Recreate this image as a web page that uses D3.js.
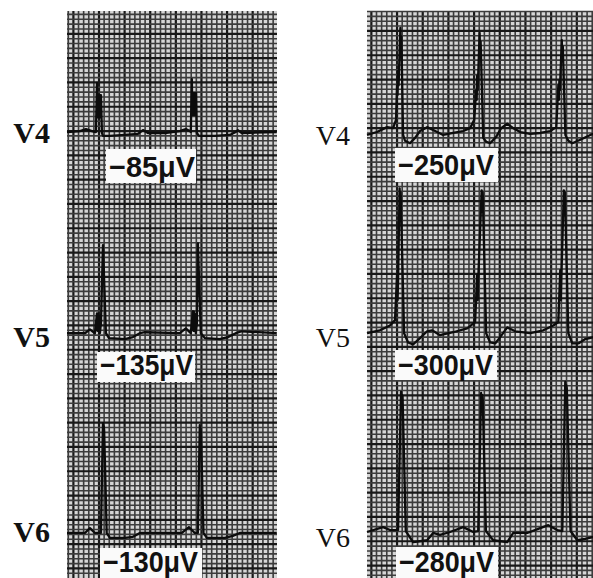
<!DOCTYPE html>
<html>
<head>
<meta charset="utf-8">
<script src="https://cdn.jsdelivr.net/npm/d3@7"></script>
<style>
body { margin: 0; background: #fff; }
</style>
</head>
<body>
<script>
var width = 593;
var height = 578;

// lead names and the amplitude printed under each strip (microvolts)
var leads = ["V4", "V5", "V6"];
var leftAmps = [-85, -135, -130];
var rightAmps = [-250, -300, -280];

// traces: [time in ms, amplitude in mV]
var leftV4 = [[0,0],[101,0.02],[148,0.06],[195,0.02],[218,0],[226,0],[234,1.01],[238,0.3],[242,0.76],
  [246,0.3],[250,0.76],[254,0.3],[258,0.76],[262,0.3],[265,0.76],[273,-0.02],[281,-0.08],[335,-0.08],
  [452,-0.06],[554,-0.04],[593,0.04],[632,-0.02],[764,-0.02],[881,0.02],[928,0.06],[959,0.02],
  [967,0],[975,1.09],[979,0.35],[983,0.80],[987,0.35],[991,0.80],[995,0.35],[999,0.80],[1003,0.35],
  [1008,0.80],[1014,-0.02],[1030,-0.08],[1154,-0.08],[1271,-0.06],[1318,0],[1334,0.04],
  [1365,-0.02],[1638,0]];
var leftV5 = [[0,0],[140,0],[179,0.08],[218,0],[234,0.41],[238,0.05],[242,0.40],[246,0.05],[250,0.36],
  [257,0],[265,0.2],[281,1.81],[304,0],[328,-0.10],[452,-0.12],[515,-0.08],[569,0],[608,0.02],
  [881,0],[928,0.10],[967,0],[983,0.45],[987,0.05],[991,0.44],[995,0.05],[998,0.4],[1006,0],
  [1014,0.2],[1022,1.85],[1045,0],[1076,-0.10],[1193,-0.12],[1256,-0.08],[1318,0],[1365,0.04],
  [1638,0]];
var leftV6 = [[0,0],[140,0],[179,0.10],[218,0],[265,0],[281,2.26],[284,1.9],[287,2.2],[290,2.12],
  [310,0],[335,-0.10],[452,-0.10],[515,-0.08],[569,0],[897,0],[952,0.12],[998,0],[1022,0],
  [1037,2.22],[1040,1.9],[1043,2.15],[1046,2.08],[1066,0],[1092,-0.10],[1232,-0.10],[1295,-0.06],
  [1349,0],[1638,0]];

var rightV4 = [[0,-0.02],[78,0.04],[156,0.14],[203,0.12],[226,0.29],[234,1.0],[238,0.80],[242,1.3],
  [246,1.0],[260,2.18],[264,1.6],[268,2.0],[281,-0.02],[296,-0.14],[335,-0.19],[374,-0.08],
  [413,0.06],[468,0.14],[515,0.08],[593,-0.02],[671,0.02],[749,0.06],[803,0.12],[835,0.29],
  [850,0.9],[854,0.70],[858,1.2],[862,0.9],[877,2.08],[881,1.6],[885,1.9],[905,-0.08],[928,-0.16],
  [959,-0.19],[1006,-0.06],[1045,0.12],[1092,0.21],[1139,0.12],[1193,0.04],[1271,0],[1349,0.02],
  [1427,0.06],[1474,0.14],[1490,1.0],[1494,0.70],[1498,1.1],[1502,0.9],[1517,1.93],[1521,1.5],
  [1525,1.8],[1545,-0.02],[1568,-0.14],[1599,-0.19],[1661,-0.12],[1739,-0.02],[1763,0]];
var rightV5 = [[0,0],[101,0.06],[179,0.16],[218,0.27],[234,1.2],[238,0.68],[242,1.1],[254,2.98],
  [258,2.5],[262,2.9],[289,0],[320,-0.19],[359,-0.23],[413,-0.10],[468,0.04],[507,0.06],
  [569,-0.04],[671,0.02],[780,0.10],[842,0.23],[858,1.2],[862,0.68],[866,1.1],[893,2.94],
  [897,2.5],[901,2.9],[928,0],[959,-0.19],[998,-0.21],[1037,-0.08],[1092,0.12],[1154,0.04],
  [1271,0],[1373,0.06],[1451,0.16],[1490,0.23],[1505,1.3],[1509,0.68],[1513,1.1],[1533,2.94],
  [1537,2.5],[1541,2.9],[1568,0],[1599,-0.21],[1646,-0.21],[1700,-0.12],[1763,-0.08]];
var rightV6 = [[0,-0.02],[125,0.08],[179,0.02],[242,0.02],[265,2.86],[269,2.5],[273,2.8],[277,2.78],
  [302,0],[359,-0.23],[468,-0.19],[515,-0.04],[569,-0.08],[647,-0.02],[749,0.08],[827,-0.02],
  [866,0],[889,2.84],[893,2.5],[897,2.8],[901,2.74],[926,0],[983,-0.19],[1092,-0.23],[1139,-0.04],
  [1248,-0.04],[1349,0.06],[1412,0.12],[1482,0.02],[1521,0],[1544,3.07],[1548,2.7],[1552,3.0],
  [1556,2.94],[1585,0],[1638,-0.19],[1700,-0.16],[1763,-0.12]];

// page layout of the two paper strips
var panels = [
  { x0: 67, x1: 277, tMax: 1640, majT: 50, majMm: 4.7, bases: [24.9, 66.3, 107.4],
    traces: [leftV4, leftV5, leftV6], amps: leftAmps, bold: true,
    labelX: 50, labelY: [143, 347, 542], fontSize: 30,
    boxes: [[106, 149, 90, 34, 177, 86], [97, 352, 98, 30, 375, 93], [100, 548, 102, 32, 572, 95]] },
  { x0: 367, x1: 593, tMax: 1760, majT: 34, majMm: 4.1, bases: [25.3, 66.3, 107.0],
    traces: [rightV4, rightV5, rightV6], amps: rightAmps, bold: false,
    labelX: 350, labelY: [145, 347, 547], fontSize: 28,
    boxes: [[395, 148, 103, 34, 175, 96], [395, 350, 102, 30, 375, 95], [396, 547, 102, 32, 572, 95]] }
];

var svg = d3.select("body").append("svg")
  .attr("width", width)
  .attr("height", height)
  .style("display", "block");

var paperTop = 11;
var mmMax = (height - paperTop) / 4.86;

panels.forEach(function(p) {
  var x = d3.scaleLinear().domain([0, p.tMax]).range([p.x0, p.x1]);
  var y = d3.scaleLinear().domain([0, mmMax]).range([paperTop, height]);
  var g = svg.append("g");

  // paper
  g.append("rect")
    .attr("x", p.x0).attr("y", paperTop)
    .attr("width", p.x1 - p.x0).attr("height", height - paperTop)
    .attr("fill", "#d6d6d6");

  // small squares every 40 ms / 1 mm, big squares every 200 ms / 5 mm
  var isMajT = d => Math.abs(Math.round(d - p.majT)) % 200 === 0;
  var isMajMm = d => Math.abs(Math.round(d - p.majMm)) % 5 === 0;
  var vMinor = d3.range(p.majT % 40, p.tMax, 40);
  var hMinor = d3.range(p.majMm % 1, mmMax, 1);
  g.selectAll(".vmin").data(vMinor).enter().append("line")
    .attr("x1", d => x(d)).attr("x2", d => x(d))
    .attr("y1", paperTop).attr("y2", height)
    .attr("stroke", d => isMajT(d) ? "#181818" : "#3c3c3c")
    .attr("stroke-width", d => isMajT(d) ? 2.2 : 1.6);
  g.selectAll(".hmin").data(hMinor).enter().append("line")
    .attr("x1", p.x0).attr("x2", p.x1)
    .attr("y1", d => y(d)).attr("y2", d => y(d))
    .attr("stroke", d => isMajMm(d) ? "#181818" : "#3c3c3c")
    .attr("stroke-width", d => isMajMm(d) ? 2.2 : 1.6);

  // traces, 10 mm per mV
  p.traces.forEach(function(tr, i) {
    var line = d3.line()
      .x(d => x(d[0]))
      .y(d => y(p.bases[i] - d[1] * 10));
    g.append("path")
      .datum(tr)
      .attr("d", line)
      .attr("fill", "none")
      .attr("stroke", "#0c0c0c")
      .attr("stroke-width", 2.3)
      .attr("stroke-linejoin", "round");
  });

  // lead names
  g.selectAll(".lead").data(leads).enter().append("text")
    .attr("x", p.labelX)
    .attr("y", (d, i) => p.labelY[i])
    .attr("text-anchor", "end")
    .attr("font-family", "'Liberation Serif', 'DejaVu Serif', serif")
    .attr("font-weight", p.bold ? "bold" : "normal")
    .attr("font-size", p.fontSize)
    .attr("fill", "#111")
    .text(d => d);

  // amplitude boxes
  p.amps.forEach(function(a, i) {
    var b = p.boxes[i];
    g.append("rect")
      .attr("x", b[0]).attr("y", b[1])
      .attr("width", b[2]).attr("height", b[3])
      .attr("fill", "#fafafa");
    g.append("text")
      .attr("x", b[0] + 3)
      .attr("y", b[4])
      .attr("textLength", b[5])
      .attr("lengthAdjust", "spacingAndGlyphs")
      .attr("font-family", "'Liberation Sans', Arial, sans-serif")
      .attr("font-weight", "bold")
      .attr("font-size", 29)
      .attr("fill", "#111")
      .text("\u2212" + Math.abs(a) + "\u03bcV");
  });
});
</script>
</body>
</html>
